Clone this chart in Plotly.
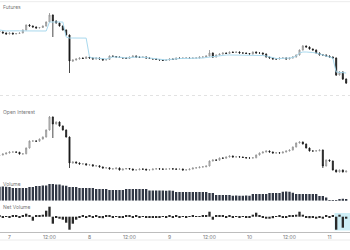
import plotly.graph_objects as go
import pandas as pd

# ---------------- data ----------------
start_time = "2024-03-06 21:00"
n_hours = 105
tick_vals = ["2024-03-07 00:00", "2024-03-07 12:00", "2024-03-08 00:00", "2024-03-08 12:00",
             "2024-03-09 00:00", "2024-03-09 12:00", "2024-03-10 00:00", "2024-03-10 12:00",
             "2024-03-11 00:00"]
tick_text = ["7", "12:00", "8", "12:00", "9", "12:00", "10", "12:00", "11"]
x_range = ["2024-03-06 21:09", "2024-03-11 06:09"]

panel_titles = ["Futures", "Open Interest", "Volume", "Net Volume"]

price_open = [3605,3600,3590,3580,3590,3580,3585,3590,3620,3670,
              3660,3650,3640,3645,3660,3700,3770,3710,3690,3660,
              3620,3570,3310,3320,3330,3340,3335,3350,3340,3330,
              3340,3330,3320,3325,3360,3355,3350,3345,3340,3335,
              3350,3360,3350,3345,3350,3340,3335,3330,3325,3320,
              3315,3320,3330,3325,3340,3335,3340,3340,3335,3340,
              3340,3350,3350,3360,3390,3350,3370,3380,3390,3385,
              3400,3395,3400,3390,3390,3385,3380,3400,3390,3390,
              3380,3350,3340,3330,3330,3340,3340,3330,3340,3350,
              3370,3420,3460,3450,3430,3420,3390,3370,3370,3360,
              3350,3340,3170,3200,3130]
price_close = [3600,3590,3580,3590,3580,3585,3590,3620,3670,3660,
               3650,3640,3645,3660,3700,3770,3710,3690,3660,3620,
               3570,3310,3320,3330,3340,3335,3350,3340,3330,3340,
               3330,3320,3325,3360,3355,3350,3345,3340,3335,3350,
               3360,3350,3345,3350,3340,3335,3330,3325,3320,3315,
               3320,3330,3325,3340,3335,3340,3340,3335,3340,3340,
               3350,3350,3360,3390,3350,3370,3380,3390,3385,3400,
               3395,3400,3390,3390,3385,3380,3400,3390,3390,3380,
               3350,3340,3330,3330,3340,3340,3330,3340,3350,3370,
               3420,3460,3450,3430,3420,3390,3370,3370,3360,3350,
               3340,3170,3200,3130,3090]
price_high = [3610,3605,3595,3595,3592,3590,3595,3625,3675,3678,
              3665,3655,3650,3665,3705,3790,3775,3715,3695,3665,
              3625,3575,3325,3335,3345,3345,3355,3355,3345,3345,
              3345,3335,3330,3365,3365,3360,3355,3350,3345,3355,
              3365,3365,3355,3355,3355,3345,3340,3335,3330,3325,
              3325,3335,3335,3345,3345,3345,3345,3345,3345,3345,
              3355,3355,3365,3420,3395,3375,3385,3395,3395,3405,
              3405,3405,3405,3395,3395,3390,3405,3405,3395,3395,
              3385,3355,3345,3335,3345,3345,3345,3345,3355,3375,
              3425,3470,3465,3455,3435,3425,3395,3375,3375,3365,
              3355,3345,3210,3205,3135]
price_low = [3595,3585,3575,3576,3576,3578,3582,3588,3615,3655,
             3645,3635,3636,3640,3655,3695,3550,3685,3655,3615,
             3565,3190,3300,3315,3325,3330,3330,3335,3325,3325,
             3325,3315,3315,3320,3350,3345,3340,3335,3330,3330,
             3345,3345,3340,3340,3335,3330,3325,3320,3315,3310,
             3310,3315,3320,3320,3330,3330,3335,3330,3330,3335,
             3335,3345,3345,3355,3340,3345,3365,3375,3380,3380,
             3390,3390,3385,3385,3380,3375,3375,3385,3385,3375,
             3345,3335,3325,3325,3325,3335,3325,3325,3335,3345,
             3365,3415,3445,3425,3415,3385,3365,3365,3355,3345,
             3335,3160,3165,3120,3080]
reference_line = [3620,3612,3610,3611,3609,3610,3612,3611,3610,3609,
                  3610,3611,3610,3609,3610,3700,3700,3702,3700,3700,
                  3550,3540,3540,3541,3540,3540,3539,3350,3340,3340,
                  3335,3330,3330,3340,3350,3350,3350,3345,3340,3345,
                  3350,3350,3350,3350,3345,3340,3335,3330,3325,3320,
                  3320,3325,3330,3335,3335,3335,3335,3335,3335,3335,
                  3340,3340,3345,3350,3350,3355,3360,3365,3370,3370,
                  3370,3370,3370,3370,3370,3370,3370,3370,3370,3365,
                  3360,3350,3340,3335,3335,3335,3335,3340,3345,3360,
                  3390,3400,3400,3400,3395,3390,3380,3370,3360,3350,
                  3340,3200,3195,3190,3190]

oi_open = [1445,1450,1460,1470,1480,1480,1478,1460,1462,1520,
           1590,1590,1588,1610,1630,1700,1830,1760,1780,1740,
           1700,1630,1370,1380,1370,1360,1362,1350,1352,1340,
           1342,1330,1320,1322,1310,1312,1320,1300,1310,1315,
           1310,1300,1302,1310,1308,1300,1302,1310,1312,1310,
           1308,1310,1312,1310,1308,1310,1300,1302,1310,1320,
           1322,1330,1332,1340,1390,1400,1398,1420,1418,1430,
           1440,1430,1432,1430,1425,1420,1420,1422,1450,1470,
           1480,1490,1480,1470,1472,1470,1480,1490,1500,1530,
           1570,1580,1560,1520,1490,1490,1492,1500,1340,1400,
           1390,1300,1280,1300,1280]
oi_close = [1450,1460,1470,1480,1480,1478,1460,1462,1520,1590,
            1590,1588,1610,1630,1700,1830,1760,1780,1740,1700,
            1630,1370,1380,1370,1360,1362,1350,1352,1340,1342,
            1330,1320,1322,1310,1312,1320,1300,1310,1315,1310,
            1300,1302,1310,1308,1300,1302,1310,1312,1310,1308,
            1310,1312,1310,1308,1310,1300,1302,1310,1320,1322,
            1330,1332,1340,1390,1400,1398,1420,1418,1430,1440,
            1430,1432,1430,1425,1420,1420,1422,1450,1470,1480,
            1490,1480,1470,1472,1470,1480,1490,1500,1530,1570,
            1580,1560,1520,1490,1490,1492,1500,1340,1400,1390,
            1300,1280,1300,1280,1290]
oi_high = [1455,1465,1475,1485,1485,1484,1480,1466,1525,1595,
           1596,1594,1614,1635,1705,1840,1835,1785,1785,1745,
           1705,1635,1385,1385,1375,1366,1366,1356,1356,1346,
           1346,1335,1326,1326,1316,1324,1324,1314,1320,1318,
           1314,1304,1314,1314,1312,1306,1314,1316,1316,1314,
           1314,1316,1316,1314,1314,1314,1306,1314,1324,1326,
           1334,1336,1344,1395,1405,1405,1424,1424,1434,1444,
           1444,1436,1436,1434,1428,1424,1426,1455,1475,1485,
           1494,1494,1484,1476,1476,1484,1494,1504,1535,1575,
           1585,1584,1564,1524,1494,1496,1504,1504,1405,1404,
           1394,1304,1304,1304,1294]
oi_low = [1440,1446,1456,1466,1476,1474,1455,1456,1458,1515,
          1585,1584,1584,1605,1625,1695,1620,1755,1735,1695,
          1625,1320,1365,1366,1356,1356,1346,1346,1336,1336,
          1326,1316,1316,1306,1306,1308,1296,1296,1306,1306,
          1296,1296,1298,1304,1296,1296,1298,1306,1306,1304,
          1304,1306,1306,1304,1304,1296,1296,1298,1306,1316,
          1318,1326,1328,1336,1386,1394,1394,1414,1414,1426,
          1426,1426,1426,1421,1416,1416,1416,1418,1446,1466,
          1476,1476,1466,1466,1466,1466,1476,1486,1496,1526,
          1566,1556,1516,1486,1486,1486,1488,1320,1336,1386,
          1296,1276,1276,1276,1276]

volume = [1400,1420,1400,1370,1270,1260,1280,1270,1260,1370,
          1360,1470,1460,1520,1530,1670,1680,1620,1610,1520,
          1500,1370,1380,1360,1270,1280,1260,1270,1260,1170,
          1180,1160,1170,1070,1060,1080,1070,1060,1170,1180,
          1160,1170,1180,1160,1170,1020,1030,1010,1020,1030,
          1000,1010,990,870,880,860,870,880,870,860,
          870,880,870,770,780,570,580,560,570,580,
          500,510,490,500,510,500,670,680,660,670,
          680,770,780,760,770,900,910,890,800,670,
          680,660,670,680,670,660,470,480,320,60,
          50,70,180,190,170]

net_volume = [10,-10,5,-5,10,15,-10,10,30,10,
              -40,10,15,20,60,100,-70,-10,-20,-30,
              -60,-130,-70,-30,-10,10,-10,10,-5,10,
              -10,-15,10,15,-10,5,-10,-10,10,10,
              -10,10,-5,5,-10,-10,-10,-10,-5,5,
              -10,10,-5,10,-5,5,-5,5,10,5,
              5,10,10,50,-30,15,10,10,-10,10,
              -5,5,-10,5,-5,-10,20,40,10,-10,
              -20,-20,-15,5,10,-5,-10,10,15,20,
              50,20,-10,-15,-10,-20,-10,-20,10,-10,
              10,-130,20,-110,-20]

times = pd.date_range(start_time, periods=n_hours, freq="h")

# ---------------- figure ----------------
fig = go.Figure()

candle_style = dict(
    increasing=dict(line=dict(color="#8f8f8f", width=0.8), fillcolor="#d6d6d6"),
    decreasing=dict(line=dict(color="#1a1a1a", width=0.8), fillcolor="#1a1a1a"),
    whiskerwidth=0, showlegend=False, hoverinfo="skip",
)

fig.add_trace(go.Scatter(x=times, y=reference_line, mode="lines",
                         line=dict(color="#a9d9ee", width=1),
                         xaxis="x", yaxis="y", showlegend=False, hoverinfo="skip"))
fig.add_trace(go.Candlestick(x=times, open=price_open, high=price_high, low=price_low,
                             close=price_close, xaxis="x", yaxis="y", **candle_style))
fig.add_trace(go.Candlestick(x=times, open=oi_open, high=oi_high, low=oi_low,
                             close=oi_close, xaxis="x", yaxis="y2", **candle_style))
fig.add_trace(go.Bar(x=times, y=volume, xaxis="x", yaxis="y3",
                     marker=dict(color="#323845", line=dict(width=0)),
                     showlegend=False, hoverinfo="skip"))
fig.add_trace(go.Bar(x=times, y=net_volume, xaxis="x", yaxis="y4",
                     marker=dict(color="#2a2a2a", line=dict(width=0)),
                     showlegend=False, hoverinfo="skip"))

H = 250.0
def py(px):
    return 1 - px / H

hidden = dict(visible=False, showgrid=False, zeroline=False, fixedrange=True)

fig.update_layout(
    width=350, height=250,
    margin=dict(l=0, r=0, t=0, b=0),
    paper_bgcolor="white", plot_bgcolor="white",
    font=dict(family="Inter, Roboto, sans-serif", size=5, color="#666"),
    bargap=0.3,
    boxgap=0.55,
    xaxis=dict(domain=[0, 1], anchor="y4", type="date", range=x_range,
               tickvals=tick_vals, ticktext=tick_text, ticks="",
               tickfont=dict(size=5, color="#777"),
               showgrid=False, zeroline=False, showline=True,
               linecolor="#bdbdbd", linewidth=1,
               rangeslider=dict(visible=False)),
    yaxis=dict(domain=[py(92), py(3)], range=[3000, 3890], **hidden),
    yaxis2=dict(domain=[py(175), py(96)], range=[1250, 2040], **hidden),
    yaxis3=dict(domain=[py(200.7), py(178)], range=[0, 2270], **hidden),
    yaxis4=dict(domain=[py(232), py(203)], range=[-153, 137], **hidden),
)

# highlight on the latest hours of the net-volume panel
fig.add_shape(type="rect", xref="x", yref="paper",
              x0=times[100] + (times[101] - times[100]) / 2, x1=x_range[1],
              y0=py(230.5), y1=py(213), fillcolor="#cdeef6",
              line=dict(width=0), layer="below")

# separator lines
for ypx, col, dash in [(1.7, "#ececec", "solid"), (95.5, "#e2e2e2", "dot"), (240, "#ececec", "solid")]:
    fig.add_shape(type="line", xref="paper", yref="paper", x0=0, x1=1,
                  y0=py(ypx), y1=py(ypx), line=dict(color=col, width=1, dash=dash))

# panel titles
for title, ypx in zip(panel_titles, [7, 112.5, 184, 207]):
    fig.add_annotation(text=title, xref="paper", yref="paper", x=0.003, y=py(ypx),
                       xanchor="left", yanchor="middle", showarrow=False,
                       font=dict(size=5, color="#777"))

fig.write_html("out.html")
